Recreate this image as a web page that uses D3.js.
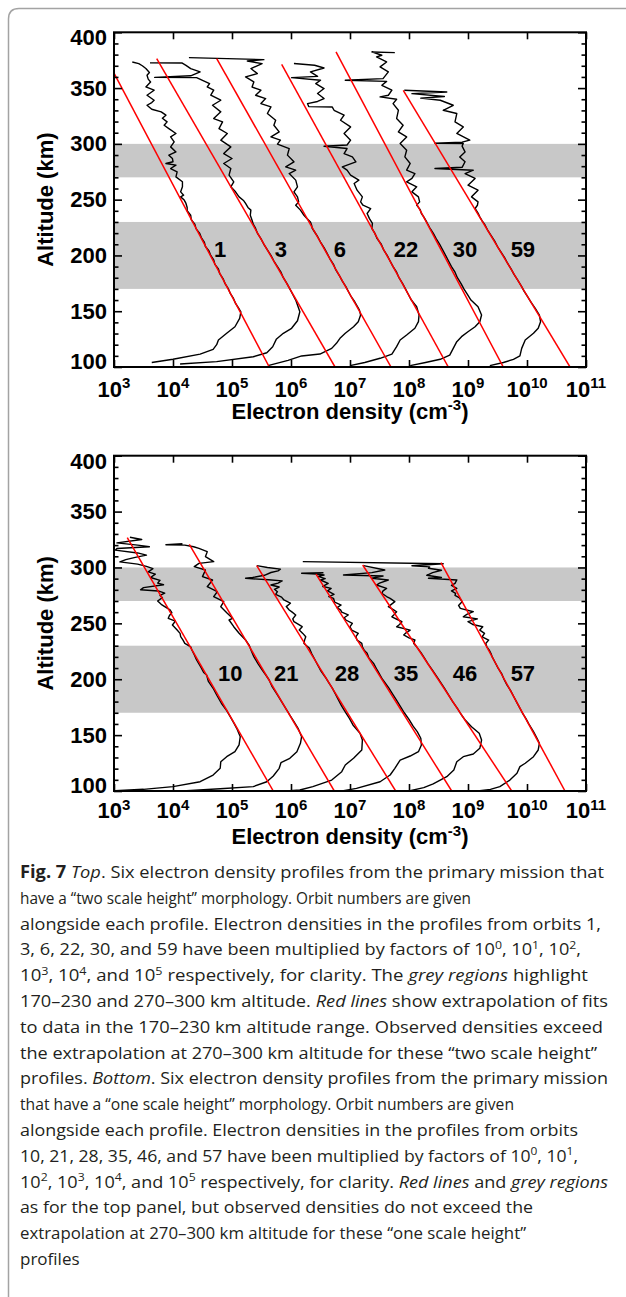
<!DOCTYPE html>
<html>
<head>
<meta charset="utf-8">
<script src="https://cdn.jsdelivr.net/npm/d3@7"></script>
<style>
  html, body { margin: 0; padding: 0; background: #fff; }
  svg { display: block; }
</style>
</head>
<body>
<svg id="fig" width="626" height="1297"></svg>
<script>
// ---------------------------------------------------------------
// Data: altitude (km) and log10 electron density (cm^-3), scaled
// by the per-orbit factors given in the caption.
// ---------------------------------------------------------------
const xTickExponents = [3, 4, 5, 6, 7, 8, 9, 10, 11];
const altMajorTicks = [100, 150, 200, 250, 300, 350, 400];
const altMinorTicks = [110, 120, 130, 140, 160, 170, 180, 190, 210, 220, 230, 240,
                       260, 270, 280, 290, 310, 320, 330, 340, 360, 370, 380, 390];
const greyBandsKm = [[170, 230], [270, 300]];

const topOrbits = [1, 3, 6, 22, 30, 59];
const bottomOrbits = [10, 21, 28, 35, 46, 57];
const topLabelLogNe = [4.80, 5.83, 6.83, 7.95, 8.95, 9.93];
const bottomLabelLogNe = [4.97, 5.92, 6.95, 7.95, 8.95, 9.93];
const labelAltKm = 205.6;

// Straight-line fits (170-230 km) extrapolated: [alt, log10 Ne] end points
const topFits = [
  [[100, 5.632], [363.5, 3.0]],
  [[100, 6.746], [376.4, 3.724]],
  [[100, 7.695], [376.4, 4.741]],
  [[100, 8.666], [371.3, 5.842]],
  [[100, 9.598], [382.4, 6.763]],
  [[100, 10.729], [348, 7.903]]
];
const bottomFits = [
  [[100, 5.70], [326.6, 3.225]],
  [[100, 6.734], [320.7, 4.276]],
  [[100, 7.774], [301.6, 5.419]],
  [[100, 8.724], [294.1, 6.424]],
  [[100, 9.741], [302.2, 7.215]],
  [[100, 10.644], [304.3, 8.542]]
];

// "Two scale height" profiles
const orbit1 = [[104,3.64],[107,4.00],[111.5,4.46],[115.8,4.68],[120,4.74],[124.2,4.77],[130.2,4.91],[136.1,5.05],[143.6,5.13],[149.5,5.15],[153,5.11],[157,5.06],[162,5.02],[166,4.97],[170,4.94],[175,4.88],[179,4.85],[184,4.79],[188,4.77],[192,4.71],[196,4.69],[200,4.64],[204,4.61],[208,4.55],[212,4.53],[216,4.48],[220,4.45],[224,4.39],[228,4.37],[232,4.31],[236,4.30],[240,4.24],[243,4.24],[246.6,4.22],[249.6,4.19],[252.5,4.13],[254,4.18],[257,4.13],[261.5,4.16],[266,4.16],[270.4,4.05],[274.9,4.07],[277.9,3.96],[280.9,4.05],[282.4,3.88],[284,4.00],[286.9,3.99],[289.9,3.93],[292.8,4.05],[297.3,3.96],[301.8,4.02],[306.3,3.96],[309.3,4.05],[313.7,3.93],[316.7,3.85],[319.7,3.90],[323,3.82],[325.7,3.88],[328.7,3.80],[331,3.64],[334.6,3.56],[337,3.64],[339.1,3.68],[343.6,3.56],[348.1,3.68],[351,3.54],[355.5,3.62],[358,3.58],[361.5,3.56],[364,3.60],[367.5,3.54],[370,3.48],[371.9,3.42],[373.4,3.31]];
const orbit3 = [[102.7,4.12],[104.8,4.74],[109.2,5.36],[112.8,5.59],[118.2,5.69],[124.8,5.75],[130.2,5.87],[134.7,6.01],[141.5,6.11],[149.5,6.15],[155.5,6.11],[160,6.08],[165,6.03],[170,5.98],[175,5.93],[180,5.87],[185,5.83],[190,5.77],[195,5.71],[200,5.66],[205,5.60],[210,5.54],[215,5.49],[220,5.43],[224.2,5.40],[228,5.36],[231.6,5.34],[236,5.31],[240.6,5.32],[243,5.27],[246.6,5.23],[249,5.20],[252.5,5.12],[257,5.06],[261.5,4.98],[266,5.03],[272,4.95],[277.9,4.98],[282.4,4.86],[286.9,5.00],[291.3,4.86],[297.3,4.98],[303.3,4.81],[309.3,4.92],[313.7,4.78],[319.7,4.84],[322.7,4.69],[328.7,4.81],[334.6,4.67],[339.1,4.81],[343.6,4.64],[348.1,4.69],[351,4.58],[354,4.62],[357,4.50],[359.4,4.40],[359.6,3.69],[361,4.30],[364.5,4.46],[367.5,4.30],[370.4,4.22],[372.5,4.15],[372.6,3.61]];
const orbit6 = [[101.2,5.61],[106,5.95],[109.9,6.18],[111.6,6.49],[116.7,6.69],[121.2,6.77],[125.7,6.83],[130.2,6.92],[136.1,7.06],[140.6,7.14],[146.6,7.18],[151,7.16],[158.5,7.08],[163,7.02],[167,6.98],[172,6.93],[177,6.87],[182,6.82],[187,6.76],[192,6.72],[197,6.66],[202,6.61],[207,6.56],[212,6.50],[217,6.45],[221,6.40],[224.2,6.36],[227,6.35],[230,6.33],[233,6.27],[236,6.22],[240.6,6.16],[245,6.08],[248,6.13],[252.5,6.11],[257,6.05],[261.5,6.11],[267.5,6.08],[273.4,5.97],[276.4,6.08],[279.4,5.91],[283.9,6.05],[289.9,5.94],[295.8,5.97],[299.7,5.77],[303.3,5.82],[306.3,5.66],[310.7,5.80],[316.7,5.71],[321.2,5.74],[327.2,5.60],[333.1,5.66],[336.1,5.49],[340.6,5.57],[343.6,5.40],[348.1,5.49],[351,5.34],[355.5,5.37],[360,5.23],[363,5.43],[367.5,5.32],[371.9,5.51],[374.3,5.26],[375.5,5.54],[377.3,4.27]];
const orbit22 = [[101.2,7.00],[104,7.25],[107.8,7.51],[111.6,7.71],[118.2,7.79],[124.2,7.85],[128.7,7.96],[134.7,8.10],[140.6,8.16],[146.6,8.17],[154,8.13],[160,8.04],[165,7.99],[170,7.94],[175,7.89],[180,7.83],[185,7.79],[190,7.73],[195,7.68],[200,7.63],[205,7.57],[210,7.53],[215,7.46],[220,7.42],[224.2,7.37],[228.7,7.38],[233,7.33],[237.6,7.29],[242,7.35],[245,7.22],[248,7.18],[252.5,7.21],[258.5,7.12],[264.5,7.07],[267.5,7.15],[272,7.01],[276.4,6.95],[279.4,6.87],[283.9,7.10],[288.4,7.04],[291.3,6.90],[295.8,6.95],[297.9,6.56],[299,6.95],[303.3,7.01],[309.3,6.90],[315.2,7.01],[321.2,6.84],[325.7,6.90],[330.1,6.73],[333,6.70],[333.4,6.30],[336.1,6.28],[338,6.45],[340.6,6.56],[345.1,6.45],[349.6,6.56],[354,6.42],[357,6.50],[359.4,6.01],[360.5,6.45],[364.5,6.33],[368,6.56],[370.5,6.40],[372,6.05]];
const orbit30 = [[101.2,8.02],[104,8.28],[106.9,8.53],[110.7,8.69],[116.7,8.75],[122.7,8.81],[127.2,8.89],[131.6,9.00],[136.1,9.12],[140.6,9.20],[146.6,9.23],[154,9.17],[160,9.05],[165,8.99],[170,8.93],[175,8.88],[180,8.82],[185,8.78],[190,8.72],[195,8.67],[200,8.62],[205,8.57],[210,8.52],[215,8.46],[220,8.41],[225,8.35],[230,8.30],[234.6,8.25],[237.6,8.21],[241,8.19],[245.1,8.13],[248,8.18],[252.5,8.16],[257,8.05],[261.5,8.13],[265.9,7.96],[269,8.05],[273.4,8.10],[276.4,7.96],[282.4,8.02],[288.3,7.93],[294.3,7.96],[300.3,7.85],[306.2,7.96],[310.7,7.82],[316.7,7.90],[322.7,7.79],[330.1,7.82],[336.1,7.73],[340,7.79],[342.1,7.51],[343.6,7.65],[348.1,7.71],[352.5,7.54],[356,7.62],[357,6.92],[358.5,7.56],[364.5,7.65],[369,7.51],[373.4,7.62],[377.9,7.45],[379.4,7.54],[382.4,7.37],[381.8,7.76]];
const orbit59 = [[101.2,9.37],[104,9.60],[106.9,9.77],[109.9,9.88],[116.7,9.91],[124.2,9.97],[130.2,10.11],[134.7,10.19],[140.6,10.23],[146.6,10.21],[152.5,10.14],[158,10.07],[163,10.01],[168,9.95],[173,9.90],[178,9.84],[183,9.78],[188,9.73],[193,9.67],[198,9.62],[203,9.56],[208,9.50],[213,9.45],[218,9.39],[223,9.33],[228,9.28],[231,9.24],[234.6,9.20],[238,9.17],[242.1,9.12],[245,9.16],[248,9.17],[252.5,9.06],[258.5,9.17],[263,9.00],[269,9.12],[273.4,8.95],[276.4,9.09],[277.9,8.44],[279,8.90],[280.9,8.92],[284,8.95],[288.3,8.86],[292.8,8.95],[298,8.90],[300.3,8.92],[300.5,8.44],[301.5,8.90],[303.3,9.03],[309.3,8.81],[315.2,8.92],[319.7,8.78],[327.2,8.81],[330.1,8.58],[334.6,8.75],[339.1,8.53],[341,8.20],[342.5,8.60],[345,8.05],[346.5,8.64],[348.1,7.92]];

// "One scale height" profiles
const orbit10 = [[100.3,3.02],[101.5,3.50],[103.9,4.00],[108.3,4.46],[114.3,4.68],[120.3,4.80],[126.2,4.81],[130.7,4.91],[135.2,5.05],[141.2,5.12],[148.6,5.14],[156.1,5.08],[161,5.03],[166.5,4.97],[172,4.91],[178.5,4.82],[185,4.75],[191.9,4.68],[198,4.60],[203.8,4.57],[206,4.52],[211,4.47],[217.2,4.40],[222,4.36],[226.2,4.32],[229,4.30],[232.1,4.20],[235,4.17],[238.1,4.13],[241,4.12],[244,4.07],[248.5,3.99],[252,4.04],[254.5,3.92],[257,3.94],[259.5,3.98],[262,3.95],[265,3.86],[267,3.80],[270,3.74],[273,3.82],[275,3.78],[277,3.86],[279,3.75],[280,3.45],[282,3.50],[284.5,3.84],[286,3.74],[288.5,3.78],[291,3.62],[294,3.70],[296,3.58],[299,3.66],[301,3.55],[303,3.40],[305,3.10],[307,3.20],[309,3.36],[311,3.55],[313,3.40],[315.5,3.02],[317,3.05],[318.6,3.60],[320,3.40],[322,3.05],[325,3.47],[327,3.27]];
const orbit21 = [[100.3,4.23],[102,4.80],[103.9,5.36],[108.3,5.59],[113.4,5.70],[120.3,5.80],[125.3,5.83],[129.3,5.98],[135.2,6.10],[142.7,6.16],[148.6,6.18],[156.1,6.12],[162,6.05],[168,5.98],[174,5.91],[179.9,5.84],[186,5.77],[193.3,5.68],[199.3,5.63],[204,5.57],[208.3,5.51],[214,5.44],[220.2,5.37],[225,5.33],[230.6,5.29],[235.1,5.23],[241.1,5.12],[247,5.03],[253,4.95],[254.5,5.01],[259,4.92],[264.9,4.81],[269.4,4.86],[273.9,4.69],[278.3,4.75],[282.8,4.58],[288.8,4.67],[291.8,4.50],[297.7,4.55],[300.7,4.36],[303.7,4.44],[305.2,4.69],[309.7,4.55],[314.1,4.58],[317.1,4.44],[318.5,4.35],[320,4.20],[320.3,3.88],[321.2,4.16]];
const orbit28 = [[100.3,5.98],[100.9,6.15],[103.9,6.37],[109.8,6.69],[117.3,6.86],[123.3,6.92],[129.3,7.06],[136.7,7.20],[145.6,7.21],[151.6,7.17],[159.1,7.05],[165,6.99],[170,6.93],[176,6.86],[182,6.80],[187,6.75],[192,6.70],[197,6.64],[202,6.58],[208,6.50],[213,6.45],[219,6.39],[223,6.35],[228,6.31],[232,6.22],[235,6.23],[238,6.25],[241,6.20],[244,6.14],[247,6.19],[251.5,6.05],[254,6.03],[257.5,6.08],[260,6.02],[262,5.97],[265,5.92],[268,5.99],[270.9,5.88],[273.5,5.84],[276,5.74],[278.3,5.77],[280.5,5.72],[282.5,5.80],[284.3,5.66],[286,5.78],[288,5.85],[289,5.62],[290.3,5.23],[291,5.35],[293,5.55],[295.5,5.66],[297,5.78],[298.5,5.82],[300,5.60],[301.6,5.42]];
const orbit35 = [[100.3,6.89],[102.3,7.11],[108.3,7.51],[114.3,7.68],[120.3,7.76],[127.7,7.85],[131.3,8.02],[135.2,8.16],[141.2,8.21],[147.2,8.20],[153.1,8.14],[158,8.07],[164,8.00],[170,7.92],[176,7.85],[182,7.78],[187,7.72],[192,7.66],[200,7.55],[208.3,7.46],[214.2,7.40],[219,7.32],[223.2,7.29],[226,7.24],[229.1,7.21],[232.1,7.20],[235,7.12],[238.1,7.10],[241.1,7.14],[244,7.03],[247,7.00],[250,7.04],[253,6.93],[255,6.90],[257.5,6.97],[260,6.86],[262,6.84],[264,6.78],[266.4,6.85],[269,6.74],[272.4,6.72],[274,6.64],[276,6.73],[279,6.62],[281.3,6.68],[283,6.54],[285.8,6.63],[288.8,6.50],[290,6.58],[292,6.46],[293.3,6.56],[294.2,6.43],[294.8,6.18],[295.3,6.55]];
const orbit46 = [[100.3,8.02],[103,8.25],[106.3,8.41],[112.8,8.64],[118.8,8.76],[126.2,8.81],[130.7,8.92],[133.1,9.09],[138.2,9.20],[145.6,9.23],[151.6,9.19],[157.5,9.06],[163,8.96],[168,8.89],[174,8.82],[180,8.74],[186,8.67],[192,8.60],[200,8.50],[208,8.40],[214,8.32],[219,8.26],[224,8.20],[229,8.13],[232,8.08],[235.1,8.10],[237,8.00],[239.6,7.91],[241.5,7.95],[244,8.02],[247,7.79],[249,7.84],[251.5,7.88],[253,7.82],[255.9,7.71],[258,7.75],[260.4,7.79],[262,7.74],[264.9,7.65],[267,7.70],[269.4,7.76],[272.4,7.68],[274,7.62],[276.9,7.54],[279,7.56],[281.3,7.62],[284.3,7.45],[286,7.50],[288.8,7.65],[290.3,7.37],[292.4,7.56],[293.3,6.89],[295.4,7.37],[297.7,7.59],[301.6,7.23]];
const orbit57 = [[100.3,9.20],[101.5,9.38],[103.9,9.54],[109.8,9.71],[115.8,9.83],[121.8,9.88],[124.8,9.97],[130.7,10.11],[136.7,10.19],[142.7,10.21],[147.2,10.17],[153.1,10.11],[160,10.03],[165,9.98],[170,9.92],[175,9.87],[180,9.82],[185,9.77],[190,9.72],[195,9.66],[200,9.61],[205,9.57],[210,9.51],[215,9.46],[220,9.41],[223,9.39],[226,9.36],[229,9.32],[232,9.30],[235,9.35],[238,9.24],[241,9.28],[244,9.20],[247,9.25],[249,9.08],[251.5,9.00],[254,9.16],[255.9,8.92],[258,8.98],[260.4,9.09],[263.4,8.87],[266,8.84],[269.4,8.90],[273,8.85],[275,8.78],[276.9,8.79],[279,8.72],[281.3,8.81],[284,8.72],[285.8,8.78],[288.8,8.81],[290.3,8.33],[291,8.55],[293,8.30],[295.4,8.40],[297.5,8.55],[299.3,8.33],[300.5,8.35],[301.6,8.05],[303.3,8.58],[305.2,6.20]];

const topProfiles = [orbit1, orbit3, orbit6, orbit22, orbit30, orbit59];
const bottomProfiles = [orbit10, orbit21, orbit28, orbit35, orbit46, orbit57];

// Figure caption: each line is a list of [text, style] runs
const captionLines = [
  [["Fig. 7", "b"], [" ", ""], ["Top", "i"], [". Six electron density profiles from the primary mission that", ""]],
  [["have a \u201ctwo scale height\u201d morphology. Orbit numbers are given", ""]],
  [["alongside each profile. Electron densities in the profiles from orbits 1,", ""]],
  [["3, 6, 22, 30, and 59 have been multiplied by factors of 10", ""], ["0", "sup"], [", 10", ""], ["1", "sup"], [", 10", ""], ["2", "sup"], [",", ""]],
  [["10", ""], ["3", "sup"], [", 10", ""], ["4", "sup"], [", and 10", ""], ["5", "sup"], [" respectively, for clarity. The ", ""], ["grey regions", "i"], [" highlight", ""]],
  [["170\u2013230 and 270\u2013300 km altitude. ", ""], ["Red lines", "i"], [" show extrapolation of fits", ""]],
  [["to data in the 170\u2013230 km altitude range. Observed densities exceed", ""]],
  [["the extrapolation at 270\u2013300 km altitude for these \u201ctwo scale height\u201d", ""]],
  [["profiles. ", ""], ["Bottom", "i"], [". Six electron density profiles from the primary mission", ""]],
  [["that have a \u201cone scale height\u201d morphology. Orbit numbers are given", ""]],
  [["alongside each profile. Electron densities in the profiles from orbits", ""]],
  [["10, 21, 28, 35, 46, and 57 have been multiplied by factors of 10", ""], ["0", "sup"], [", 10", ""], ["1", "sup"], [",", ""]],
  [["10", ""], ["2", "sup"], [", 10", ""], ["3", "sup"], [", 10", ""], ["4", "sup"], [", and 10", ""], ["5", "sup"], [" respectively, for clarity. ", ""], ["Red lines", "i"], [" and ", ""], ["grey regions", "i"]],
  [["as for the top panel, but observed densities do not exceed the", ""]],
  [["extrapolation at 270\u2013300 km altitude for these \u201cone scale height\u201d", ""]],
  [["profiles", ""]]
];

// ---------------------------------------------------------------
// Layout
// ---------------------------------------------------------------
const svg = d3.select("#fig");
const AXIS_FONT = "'Liberation Sans', Arial, Helvetica, sans-serif";
const X0 = 114, X1 = 586;
const captionWidths = [584, 451, 581, 561, 568, 588, 583, 577, 588, 494, 558, 558, 588, 513, 506, null];

// card outline with rounded top-left corner
svg.append("path")
  .attr("d", "M8.5,1297 V19 Q8.5,8.5 19,8.5 H626")
  .attr("fill", "none")
  .attr("stroke", "#a3a3a3")
  .attr("stroke-width", 1.5);

const panels = [
  { top: 32.3, bottom: 367, profiles: topProfiles, fits: topFits, orbits: topOrbits,
    labelLog: topLabelLogNe, tickBase: 396.7, titleBase: 418.5, endShift: 5.5 },
  { top: 455.7, bottom: 791, profiles: bottomProfiles, fits: bottomFits, orbits: bottomOrbits,
    labelLog: bottomLabelLogNe, tickBase: 818.3, titleBase: 844, endShift: 6 }
];

const x = d3.scaleLog().domain([1e3, 1e11]).range([X0, X1]);

panels.forEach((p, i) => {
  const y = d3.scaleLinear().domain([100, 400]).range([p.bottom, p.top]);
  const g = svg.append("g").attr("class", "panel");
  const clipId = "plot-clip-" + i;
  g.append("clipPath").attr("id", clipId)
    .append("rect")
    .attr("x", X0).attr("y", p.top)
    .attr("width", X1 - X0).attr("height", p.bottom - p.top);

  // highlighted altitude ranges
  g.selectAll("rect.band").data(greyBandsKm).join("rect")
    .attr("class", "band")
    .attr("x", X0).attr("width", X1 - X0)
    .attr("y", d => y(d[1]))
    .attr("height", d => y(d[0]) - y(d[1]))
    .attr("fill", "#c8c8c8");

  const plot = g.append("g").attr("clip-path", `url(#${clipId})`);
  const line = d3.line().x(d => x(10 ** d[1])).y(d => y(d[0]));

  plot.selectAll("path.profile").data(p.profiles).join("path")
    .attr("class", "profile")
    .attr("d", line)
    .attr("fill", "none")
    .attr("stroke", "#000")
    .attr("stroke-width", 1.4)
    .attr("stroke-linejoin", "round");

  plot.selectAll("path.fit").data(p.fits).join("path")
    .attr("class", "fit")
    .attr("d", line)
    .attr("fill", "none")
    .attr("stroke", "#ff0000")
    .attr("stroke-width", 1.5);

  // orbit numbers
  g.selectAll("text.orbit").data(p.orbits).join("text")
    .attr("class", "orbit")
    .attr("x", (d, j) => x(10 ** p.labelLog[j]))
    .attr("y", y(labelAltKm))
    .attr("dy", "0.36em")
    .attr("text-anchor", "middle")
    .attr("font-family", AXIS_FONT)
    .attr("font-weight", "bold")
    .attr("font-size", 22)
    .attr("fill", "#000")
    .text(d => d);

  // axes with inward ticks on all four sides
  const ax = g.append("g").attr("class", "axes");
  const xt = xTickExponents.map(e => 10 ** e);
  const blank = () => "";
  ax.append("g").attr("transform", `translate(0,${p.bottom})`)
    .call(d3.axisBottom(x).tickValues(xt).tickSizeInner(-7).tickSizeOuter(0).tickFormat(blank));
  ax.append("g").attr("transform", `translate(0,${p.top})`)
    .call(d3.axisTop(x).tickValues(xt).tickSizeInner(-7).tickSizeOuter(0).tickFormat(blank));
  ax.append("g").attr("transform", `translate(${X0},0)`)
    .call(d3.axisLeft(y).tickValues(altMinorTicks).tickSizeInner(-4.5).tickSizeOuter(0).tickFormat(blank));
  ax.append("g").attr("transform", `translate(${X1},0)`)
    .call(d3.axisRight(y).tickValues(altMinorTicks).tickSizeInner(-4.5).tickSizeOuter(0).tickFormat(blank));
  ax.append("g").attr("transform", `translate(${X1},0)`)
    .call(d3.axisRight(y).tickValues(altMajorTicks).tickSizeInner(-8).tickSizeOuter(0).tickFormat(blank));
  const left = ax.append("g").attr("class", "y-left").attr("transform", `translate(${X0},0)`)
    .call(d3.axisLeft(y).tickValues(altMajorTicks).tickSizeInner(-8).tickSizeOuter(0)
      .tickPadding(7).tickFormat(d3.format("d")));
  ax.selectAll(".domain").remove();
  ax.selectAll(".tick line").attr("stroke", "#000").attr("stroke-width", 1.6);
  left.selectAll(".tick text")
    .attr("font-family", AXIS_FONT)
    .attr("font-weight", "bold")
    .attr("font-size", 22)
    .attr("fill", "#000")
    .attr("dy", d => d === 400 ? `${0.32 + p.endShift / 22}em`
                   : d === 100 ? `${0.32 - p.endShift / 22}em` : "0.32em");

  // frame
  g.append("rect")
    .attr("x", X0).attr("y", p.top)
    .attr("width", X1 - X0).attr("height", p.bottom - p.top)
    .attr("fill", "none").attr("stroke", "#000").attr("stroke-width", 2);

  // decade labels 10^n
  const xl = g.selectAll("text.xlab").data(xTickExponents).join("text")
    .attr("class", "xlab")
    .attr("x", d => x(10 ** d))
    .attr("y", p.tickBase)
    .attr("text-anchor", "middle")
    .attr("font-family", AXIS_FONT)
    .attr("font-weight", "bold")
    .attr("font-size", 22)
    .attr("fill", "#000");
  xl.append("tspan").text("10");
  xl.append("tspan").attr("dy", -8.5).attr("font-size", 15).text(d => d);

  // axis titles
  const xt2 = g.append("text")
    .attr("x", (X0 + X1) / 2).attr("y", p.titleBase)
    .attr("text-anchor", "middle")
    .attr("font-family", AXIS_FONT).attr("font-weight", "bold").attr("font-size", 22)
    .attr("fill", "#000");
  xt2.append("tspan").text("Electron density (cm");
  xt2.append("tspan").attr("dy", -8.5).attr("font-size", 15).text("-3");
  xt2.append("tspan").attr("dy", 8.5).text(")");

  g.append("text")
    .attr("transform", `translate(53,${(p.top + p.bottom) / 2}) rotate(-90)`)
    .attr("text-anchor", "middle")
    .attr("font-family", AXIS_FONT).attr("font-weight", "bold").attr("font-size", 22)
    .attr("fill", "#000")
    .text("Altitude (km)");
});

// caption
const cap = svg.append("g")
  .attr("font-family", "'Open Sans', 'Noto Sans', sans-serif")
  .attr("font-size", 17)
  .attr("fill", "#231f20");

captionLines.forEach((runs, i) => {
  const t = cap.append("text").attr("x", 20).attr("y", 878 + i * 25.8);
  let lift = 0;
  runs.forEach(([s, st]) => {
    const ts = t.append("tspan").text(s);
    if (st === "sup") {
      ts.attr("font-size", 11.5).attr("dy", -6.5);
      lift = 6.5;
    } else {
      if (lift) { ts.attr("dy", lift); lift = 0; }
      if (st === "b") ts.attr("font-weight", "bold");
      if (st === "i") ts.attr("font-style", "italic");
    }
  });
  if (captionWidths[i]) t.attr("textLength", captionWidths[i]).attr("lengthAdjust", "spacingAndGlyphs");
});
</script>
</body>
</html>
